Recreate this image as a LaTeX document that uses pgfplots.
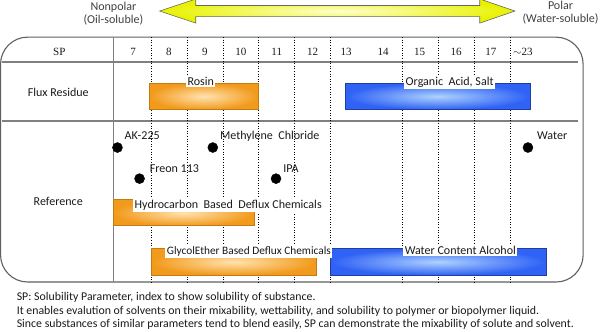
\documentclass[border=0pt]{standalone}
\usepackage{pgfplots}
\pgfplotsset{compat=1.18}
\usepackage{fontspec}
\setmainfont{Carlito}
\newfontfamily\numfont{Liberation Serif}
\definecolor{orgE}{HTML}{F29A1C}
\definecolor{orgC}{HTML}{FFE3B0}
\definecolor{orgB}{HTML}{C27A12}
\definecolor{bluE}{HTML}{2F62F5}
\definecolor{bluC}{HTML}{AED2FF}
\definecolor{bluB}{HTML}{1E3FA0}
\definecolor{ylwE}{HTML}{E8F200}
\definecolor{ylwC}{HTML}{FFFFD0}
\definecolor{lineG}{HTML}{808080}
\definecolor{txt}{HTML}{1A1A1A}
\definecolor{txtG}{HTML}{404040}
\tikzset{
  lbl/.style={font=\fontsize{12bp}{14bp}\selectfont, text=txt, inner sep=1.5bp},
  num/.style={font=\numfont\fontsize{11bp}{13bp}\selectfont, text=txt, inner sep=0bp, anchor=base},
  note/.style={font=\fontsize{11.8bp}{13bp}\selectfont, text=txt, inner sep=1.5bp, anchor=base west},
}
\begin{document}
\begin{tikzpicture}
\begin{axis}[
  width=600bp, height=330bp, scale only axis,
  xmin=3.2430, xmax=20.0028, ymin=0, ymax=330, y dir=reverse,
  hide axis,
]
% polarity arrow
\addplot[draw=gray!80!black, line width=0.6bp, inner color=ylwC, outer color=ylwE]
  coordinates {(7.740,11) (8.746,-1) (8.746,5.5) (16.651,5.5) (16.651,-1) (17.629,11)
               (16.651,23) (16.651,16.5) (8.746,16.5) (8.746,23) (7.740,11)} -- cycle;
% table frame
\addplot[draw=gray!75!black, line width=1.1bp, rounded corners=27bp]
  coordinates {(11,37) (19.528,37) (19.528,281) (3.313,281) (3.313,37) (11,37)};
% header and row separators
\addplot[lineG, line width=2bp] coordinates {(3.36,62) (19.39,62)};
\addplot[lineG, line width=2bp] coordinates {(3.36,121) (19.39,121)};
\addplot[lineG, line width=1.3bp] coordinates {(6.455,37) (6.455,281)};
% dotted column dividers
\addplot[black, dotted, line width=0.6bp] coordinates {(7.5,37) (7.5,281)};
\addplot[black, dotted, line width=0.6bp] coordinates {(8.5,37) (8.5,281)};
\addplot[black, dotted, line width=0.6bp] coordinates {(9.5,37) (9.5,281)};
\addplot[black, dotted, line width=0.6bp] coordinates {(10.5,37) (10.5,281)};
\addplot[black, dotted, line width=0.6bp] coordinates {(11.5,37) (11.5,281)};
\addplot[black, dotted, line width=0.6bp] coordinates {(12.5,37) (12.5,281)};
\addplot[black, dotted, line width=0.6bp] coordinates {(14.5,37) (14.5,281)};
\addplot[black, dotted, line width=0.6bp] coordinates {(15.5,37) (15.5,281)};
\addplot[black, dotted, line width=0.6bp] coordinates {(16.5,37) (16.5,281)};
\addplot[black, dotted, line width=0.6bp] coordinates {(17.5,37) (17.5,281)};
% range bars
\addplot[draw=orgB, line width=0.8bp, inner color=orgC, outer color=orgE]
  coordinates {(7.46,83) (10.48,83) (10.48,109) (7.46,109)} -- cycle;
\addplot[draw=bluB, line width=0.8bp, inner color=bluC, outer color=bluE]
  coordinates {(12.908,83) (18.048,83) (18.048,109) (12.908,109)} -- cycle;
\addplot[draw=orgB, line width=0.8bp, inner color=orgC, outer color=orgE]
  coordinates {(6.455,199) (10.366,199) (10.366,225) (6.455,225)} -- cycle;
\addplot[draw=orgB, line width=0.8bp, inner color=orgC, outer color=orgE]
  coordinates {(7.517,248) (12.098,248) (12.098,274) (7.517,274)} -- cycle;
\addplot[draw=bluB, line width=0.8bp, inner color=bluC, outer color=bluE]
  coordinates {(12.489,248) (18.494,248) (18.494,274) (12.489,274)} -- cycle;
% solvents
\addplot[only marks, mark=*, mark size=5bp, black]
  coordinates {(6.567,147) (9.221,147) (7.182,178) (10.980,178) (17.992,147)};
% texts
\node[lbl, text=txtG, anchor=base] at (6.455,10) {Nonpolar};
\node[lbl, text=txtG, anchor=base] at (6.455,23) {(Oil-soluble)};
\node[lbl, text=txtG, anchor=base] at (18.899,9.5) {Polar};
\node[lbl, text=txtG, anchor=base] at (18.899,22.7) {(Water-soluble)};
\node[num] at (4.947,55) {SP};
\node[num] at (7,55.3) {7};
\node[num] at (8,55.3) {8};
\node[num] at (9,55.3) {9};
\node[num] at (10,55.3) {10};
\node[num] at (11,55.3) {11};
\node[num] at (12,55.3) {12};
\node[num] at (12.93,55.3) {13};
\node[num] at (13.96,55.3) {14};
\node[num] at (14.98,55.3) {15};
\node[num] at (15.99,55.3) {16};
\node[num] at (16.96,55.3) {17};
\node[num] at (17.85,55.3) {$\sim$23};
\node[lbl, anchor=base] at (4.919,96.5) {Flux Residue};
\node[lbl, anchor=base] at (4.919,205) {Reference};
\node[lbl, anchor=base, fill=white] at (8.885,85) {Rosin};
\node[lbl, anchor=base, fill=white] at (15.813,85) {Organic\ \ Acid, Salt};
\node[lbl, anchor=base west, fill=white] at (7.0,207.5) {Hydrocarbon\ \ Based\ \ Deflux Chemicals};
\node[lbl, anchor=base west, fill=white, font=\fontsize{11.3bp}{13bp}\selectfont] at (7.894,253.5) {GlycolEther Based Deflux Chemicals};
\node[lbl, anchor=base, fill=white] at (16.11,253.5) {Water Content Alcohol};
\node[lbl, anchor=base west] at (6.721,139) {AK-225};
\node[lbl, anchor=base west] at (9.374,139) {Methylene\ \ Chloride};
\node[lbl, anchor=base west] at (7.419,171.5) {Freon 113};
\node[lbl, anchor=base west] at (11.134,171.5) {IPA};
\node[lbl, anchor=base west] at (18.201,139) {Water};
\node[note] at (3.718,299.5) {SP: Solubility Parameter, index to show solubility of substance.};
\node[note] at (3.718,313) {It enables evalution of solvents on their mixability, wettability, and solubility to polymer or biopolymer liquid.};
\node[note] at (3.718,326.5) {Since substances of similar parameters tend to blend easily, SP can demonstrate the mixability of solute and solvent.};
\end{axis}
\end{tikzpicture}
\end{document}
